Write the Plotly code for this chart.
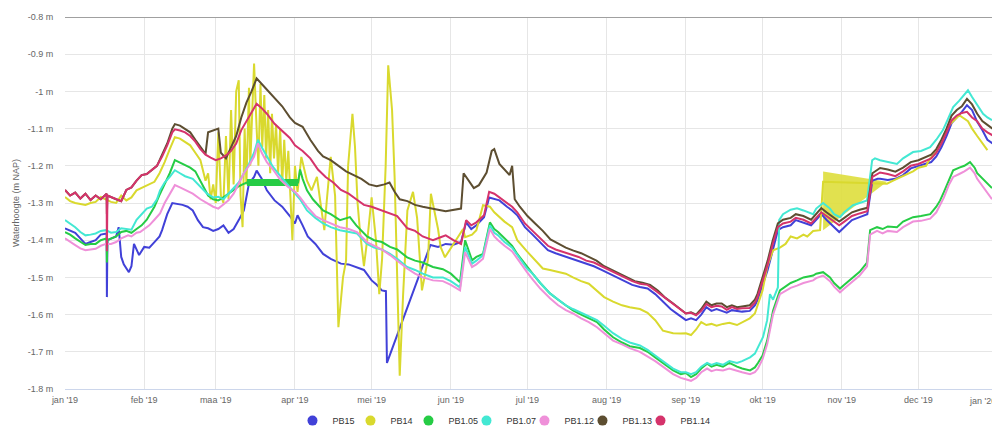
import pandas as pd
import plotly.graph_objects as go

# ---------------- data (day offsets from 2019-01-01, water level in m NAP) ----------------
pb15_days = [0, 2, 4, 6, 8, 10, 12, 14, 16.3, 16.4, 16.6, 20, 21, 22, 23, 25, 26, 27, 28, 29, 31, 33, 35, 37, 38, 40, 42,
             44, 46, 48, 50, 52, 54, 56, 58, 60, 62, 64, 66, 68, 70, 72, 74, 75, 77, 79, 82, 85, 88, 90, 91, 93, 95,
             98, 101, 104, 108, 111, 114, 117, 120, 122, 124, 125.6, 126, 143, 146, 149, 152, 155, 157, 159, 161, 164,
             166, 168, 170, 173, 175, 177, 180, 183, 186, 189, 192, 195, 198, 201, 204, 207, 210, 213, 216, 219, 222,
             225, 228, 231, 234, 237, 240, 243, 245, 247, 249, 251, 253, 255, 257, 259, 261, 263, 265, 268, 270, 271,
             273, 275, 277, 279, 281, 284, 286, 289, 292, 294, 296, 298, 301, 303, 305, 308, 311, 314, 316, 318, 319,
             322, 325, 328, 331, 334, 337, 339, 341, 343, 345, 347, 349, 351, 353, 355, 357, 359, 361, 363]
pb15_vals = [-1.368, -1.375, -1.38, -1.395, -1.41, -1.405, -1.40, -1.385, -1.382, -1.553, -1.40, -1.39, -1.365, -1.445,
             -1.465, -1.486, -1.47, -1.41, -1.425, -1.44, -1.418, -1.42, -1.405, -1.39, -1.373, -1.33, -1.30, -1.302,
             -1.305, -1.31, -1.32, -1.346, -1.365, -1.368, -1.375, -1.37, -1.36, -1.38, -1.37, -1.346, -1.32, -1.248,
             -1.23, -1.213, -1.235, -1.266, -1.293, -1.31, -1.335, -1.355, -1.333, -1.36, -1.39, -1.41, -1.437, -1.45,
             -1.463, -1.465, -1.472, -1.48, -1.508, -1.52, -1.535, -1.537, -1.73, -1.413, -1.418, -1.41, -1.412, -1.405,
             -1.352, -1.37, -1.36, -1.338, -1.285, -1.29, -1.293, -1.31, -1.32, -1.333, -1.365, -1.385, -1.405, -1.427,
             -1.435, -1.442, -1.45, -1.455, -1.463, -1.47, -1.48, -1.49, -1.50, -1.51, -1.52, -1.526, -1.53, -1.545,
             -1.565, -1.585, -1.60, -1.615, -1.61, -1.615, -1.60, -1.58, -1.59, -1.585, -1.59, -1.595, -1.588, -1.59,
             -1.592, -1.59, -1.575, -1.562, -1.52, -1.48, -1.427, -1.373, -1.365, -1.36, -1.346, -1.352, -1.36, -1.345,
             -1.33, -1.345, -1.365, -1.378, -1.365, -1.346, -1.338, -1.33, -1.24, -1.235, -1.235, -1.238, -1.235, -1.225,
             -1.207, -1.20, -1.195, -1.19, -1.175, -1.15, -1.12, -1.085, -1.07, -1.055, -1.037, -1.05, -1.082, -1.104,
             -1.13, -1.14]

pb14_days = [0, 2, 4, 6, 8, 10, 12, 14, 16, 18, 20, 22, 24, 26, 28, 31, 33, 35, 37, 39, 41, 43, 45, 47, 49, 51, 53, 55,
             56, 57, 58, 59, 60, 61, 62, 63, 64, 65, 66, 67, 68, 68.7, 69.5, 70.3, 71, 72, 72.5, 73.3, 74, 75, 75.7,
             76.5, 77.2, 78, 78.7, 79.5, 80.3, 81, 81.8, 82.6, 83.4, 84.2, 85, 85.8, 86.6, 87.4, 88.2, 89, 90, 91, 92.5,
             94.7, 96.5, 98.6, 100, 101.5, 102.5, 104, 105.7, 107, 108.8, 110, 110.8, 112.5, 113.5, 114.5, 115.5, 117,
             118.6, 120, 121.7, 123, 124.1, 125.5, 126.5, 128, 129, 129.9, 131, 132.3, 134, 136.2, 137.8, 139.7, 142.1,
             143.2, 146, 147, 148.7, 155.8, 156.6, 159.3, 161, 163.6, 166.3, 168, 169.5, 172, 175, 177, 180.8, 184, 187,
             189.8, 193, 196, 198.8, 202, 205, 208.2, 211, 214.5, 218, 221, 225, 228, 231, 234, 238, 241, 243, 245, 247,
             249, 251, 253, 255, 257.5, 260, 263, 265, 268, 270, 271.2, 273, 274.8, 277.1, 279.8, 282, 284, 286.5, 289,
             290.5, 292.8, 295.5, 296.7, 321.7, 324.1, 325.6, 328, 331.9, 334, 337, 338.6, 341, 343.6, 345.5, 347.6,
             350, 353.4, 355, 357, 359.3, 361, 362.8]
pb14_vals = [-1.284, -1.295, -1.30, -1.302, -1.305, -1.30, -1.297, -1.284, -1.29, -1.297, -1.30, -1.28, -1.293, -1.285,
             -1.266, -1.257, -1.25, -1.243, -1.22, -1.19, -1.155, -1.123, -1.127, -1.135, -1.145, -1.165, -1.185, -1.24,
             -1.22, -1.29, -1.25, -1.30, -1.11, -1.28, -1.30, -1.12, -1.29, -1.05, -1.25, -1.00, -0.97, -1.28, -1.365,
             -1.10, -1.25, -0.99, -1.20, -1.05, -0.925, -1.10, -1.20, -0.98, -1.15, -1.01, -1.18, -1.05, -1.22, -1.06,
             -1.18, -1.09, -1.22, -1.10, -1.25, -1.13, -1.24, -1.16, -1.30, -1.40, -1.20, -1.27, -1.176, -1.24, -1.266,
             -1.23, -1.30, -1.373, -1.29, -1.176, -1.28, -1.634, -1.50, -1.455, -1.20, -1.06, -1.15, -1.30, -1.38,
             -1.47, -1.38, -1.285, -1.40, -1.545, -1.45, -1.20, -0.93, -1.05, -1.23, -1.50, -1.764, -1.55, -1.32, -1.27,
             -1.34, -1.535, -1.45, -1.275, -1.37, -1.418, -1.446, -1.37, -1.392, -1.385, -1.373, -1.306, -1.31,
             -1.325, -1.335, -1.35, -1.365, -1.40, -1.43, -1.455, -1.476, -1.48, -1.485, -1.49, -1.50, -1.51, -1.517,
             -1.535, -1.553, -1.565, -1.575, -1.58, -1.585, -1.595, -1.615, -1.643, -1.65, -1.651, -1.65, -1.655,
             -1.64, -1.62, -1.628, -1.625, -1.63, -1.625, -1.622, -1.628, -1.62, -1.61, -1.597, -1.57, -1.535, -1.472,
             -1.427, -1.42, -1.41, -1.39, -1.395, -1.385, -1.39, -1.375, -1.373, -1.243, -1.248, -1.24, -1.235, -1.226,
             -1.215, -1.205, -1.20, -1.18, -1.163, -1.13, -1.095, -1.08, -1.064, -1.08, -1.10, -1.12, -1.14, -1.158]

# PB14 filled artefact (Oct/Nov)
pb14_patch_days = [296.7, 321.7, 296.7, 296.7]
pb14_patch_vals = [-1.215, -1.243, -1.373, -1.215]

pb105_days = [0, 2, 4, 6, 8, 10, 12, 14, 16.3, 16.4, 16.6, 20, 22, 24, 26, 28, 30, 32, 33.5, 35, 37, 39, 41, 43, 45,
              47, 49, 51, 53, 55, 56, 58, 60, 62, 64, 66, 68, 69.5, 71.2, 91.2, 92, 93, 94.7, 97, 101, 104, 107.6,
              111.5, 114, 118.2, 121, 124, 127.2, 130, 133.9, 137, 140, 144, 147.9, 151, 154.6, 156.6, 159.3, 161,
              163.6, 166.3, 168, 169.5, 172, 175, 177, 180.8, 183, 186, 189.8, 193, 196, 198.8, 202, 205, 208.2, 211,
              214.5, 218, 221, 225, 228, 231, 234, 238, 241, 243, 245, 247, 249, 251.3, 253, 255, 257.5, 260, 263, 265,
              268.1, 270, 271.2, 273, 274.8, 277.1, 279.8, 282, 284, 286.5, 289, 292.8, 294, 296.7, 299.4, 301, 303.3,
              305, 308.4, 311, 313.9, 315.1, 317.8, 320, 322, 325.6, 328, 331.9, 335, 338.6, 341, 342.5, 344, 346,
              347.6, 350, 352, 354.2, 356, 357, 360, 362.8]
pb105_vals = [-1.378, -1.385, -1.395, -1.405, -1.413, -1.41, -1.41, -1.40, -1.395, -1.46, -1.40, -1.39, -1.378, -1.375,
              -1.38, -1.37, -1.36, -1.345, -1.328, -1.31, -1.278, -1.25, -1.22, -1.185, -1.192, -1.198, -1.205, -1.215,
              -1.24, -1.265, -1.28, -1.29, -1.293, -1.285, -1.275, -1.266, -1.255, -1.25, -1.245, -1.245, -1.21,
              -1.235, -1.266, -1.29, -1.32, -1.33, -1.346, -1.338, -1.36, -1.39, -1.40, -1.405, -1.418, -1.425, -1.446,
              -1.455, -1.46, -1.472, -1.478, -1.49, -1.513, -1.40, -1.454, -1.445, -1.437, -1.352, -1.37, -1.378,
              -1.395, -1.415, -1.437, -1.472, -1.49, -1.515, -1.543, -1.56, -1.575, -1.589, -1.60, -1.61, -1.62, -1.64,
              -1.661, -1.675, -1.685, -1.69, -1.70, -1.715, -1.73, -1.75, -1.76, -1.757, -1.768, -1.76, -1.745,
              -1.732, -1.74, -1.735, -1.74, -1.73, -1.74, -1.745, -1.75, -1.742, -1.73, -1.71, -1.67, -1.59, -1.535,
              -1.525, -1.515, -1.508, -1.50, -1.495, -1.49, -1.486, -1.50, -1.515, -1.53, -1.52, -1.50, -1.485, -1.46,
              -1.373, -1.365, -1.37, -1.363, -1.365, -1.35, -1.338, -1.335, -1.33, -1.31, -1.293, -1.27, -1.235,
              -1.212, -1.205, -1.20, -1.19, -1.205, -1.22, -1.24, -1.26]
# PB1.05 dense plateau (mid March)
pb105_bar_days = [71.2, 91.2]
pb105_bar_vals = [-1.245, -1.245]

pb107_days = [0, 2, 4, 6, 8, 10, 12, 14, 16, 18, 20, 22, 24, 26, 28, 30, 32, 34, 36, 37.2, 39, 41, 43, 45, 47, 50, 53,
              55.6, 58, 60, 62, 64, 66, 68, 70, 72, 74, 75.5, 77, 79, 81.4, 84, 87, 90, 92, 94.7, 98, 101, 104, 107.6,
              111, 114.3, 118.2, 121, 124, 127.2, 130, 133.9, 137, 140, 144, 147.9, 151, 154.6, 156.6, 159.3, 161,
              163.6, 166.3, 168, 169.5, 172, 175, 177, 180.8, 183, 186, 189.8, 193, 196, 198.8, 202, 205, 208.2, 211,
              214.5, 218, 221, 225, 228, 231, 234, 238, 241, 243, 245, 247, 249, 251.3, 253, 255, 257.5, 260, 263, 265,
              268.1, 270, 271.2, 273.2, 274.8, 275.9, 277.1, 279, 279.5, 281, 284, 286.5, 289, 292.8, 294, 296.7,
              299.4, 301, 303.3, 305, 308.4, 311, 313.9, 315.9, 317, 319, 322, 325.6, 328, 331.9, 335, 338.6, 341,
              343.6, 345.5, 347.6, 350, 352, 353.4, 355, 357, 359.3, 361, 362.8]
pb107_vals = [-1.346, -1.355, -1.365, -1.378, -1.387, -1.385, -1.382, -1.375, -1.373, -1.38, -1.378, -1.368, -1.37,
              -1.372, -1.345, -1.33, -1.315, -1.31, -1.29, -1.266, -1.245, -1.23, -1.212, -1.22, -1.228, -1.235,
              -1.255, -1.275, -1.285, -1.283, -1.29, -1.275, -1.26, -1.245, -1.22, -1.195, -1.165, -1.13, -1.15,
              -1.175, -1.203, -1.225, -1.25, -1.275, -1.29, -1.32, -1.34, -1.355, -1.365, -1.373, -1.378, -1.382,
              -1.41, -1.42, -1.425, -1.437, -1.45, -1.472, -1.48, -1.49, -1.50, -1.50, -1.51, -1.527, -1.418, -1.463,
              -1.455, -1.44, -1.36, -1.38, -1.387, -1.405, -1.42, -1.44, -1.476, -1.49, -1.515, -1.543, -1.56, -1.575,
              -1.585, -1.595, -1.605, -1.615, -1.63, -1.65, -1.665, -1.675, -1.683, -1.695, -1.71, -1.725, -1.745,
              -1.755, -1.755, -1.76, -1.755, -1.74, -1.73, -1.735, -1.73, -1.735, -1.725, -1.73, -1.725, -1.715,
              -1.705, -1.688, -1.66, -1.615, -1.545, -1.56, -1.527, -1.346, -1.33, -1.318, -1.314, -1.32, -1.33,
              -1.315, -1.30, -1.315, -1.33, -1.338, -1.325, -1.306, -1.30, -1.293, -1.185, -1.18, -1.185, -1.19,
              -1.195, -1.18, -1.163, -1.16, -1.15, -1.13, -1.104, -1.075, -1.042, -1.025, -1.01, -0.997, -1.015,
              -1.037, -1.06, -1.07, -1.077]

pb112_days = [0, 2, 4, 6, 8, 10, 12, 14, 16, 18, 20, 22, 24.7, 26, 28, 29.4, 31, 33, 35, 37.2, 39, 41, 43, 45, 47, 50,
              53, 55.6, 58, 60, 62, 64, 66, 68.5, 70, 72, 74, 75.5, 77, 79, 81.4, 84, 87, 90, 92, 94.7, 98, 101, 104,
              107.6, 111, 114.3, 118.2, 121, 124, 127.2, 130, 133.9, 137, 140, 144, 147.9, 151, 154.6, 156.6, 159.3,
              161, 163.6, 166.3, 168, 169.5, 172, 175, 177, 180.8, 183, 186, 189.8, 193, 196, 198.8, 202, 205, 208.2,
              211, 214.5, 218, 221, 225, 228, 231, 234, 238, 241, 243, 245, 247, 249, 251.3, 253, 255, 257.5, 260, 263,
              265, 268.1, 270, 271.2, 273, 274.8, 277.1, 279.8, 282, 284, 286.5, 289, 292.8, 294, 296.7, 299.4, 301,
              303.3, 305, 308.4, 311, 313.9, 315.1, 317.8, 320, 322, 325.6, 328, 331.9, 335, 338.6, 341, 342.5, 344,
              346, 347.6, 350, 352, 354.2, 356, 357, 360, 362.8]
pb112_vals = [-1.395, -1.405, -1.413, -1.422, -1.427, -1.425, -1.423, -1.415, -1.41, -1.41, -1.405, -1.395, -1.387,
              -1.39, -1.38, -1.378, -1.37, -1.36, -1.345, -1.328, -1.30, -1.275, -1.252, -1.258, -1.265, -1.275,
              -1.29, -1.30, -1.31, -1.315, -1.305, -1.293, -1.275, -1.24, -1.22, -1.20, -1.175, -1.14, -1.165, -1.19,
              -1.21, -1.235, -1.255, -1.27, -1.285, -1.31, -1.335, -1.346, -1.355, -1.365, -1.37, -1.378, -1.405,
              -1.415, -1.425, -1.44, -1.455, -1.476, -1.49, -1.50, -1.508, -1.51, -1.52, -1.535, -1.432, -1.472,
              -1.465, -1.45, -1.37, -1.39, -1.40, -1.415, -1.43, -1.45, -1.486, -1.505, -1.53, -1.556, -1.575, -1.588,
              -1.597, -1.61, -1.62, -1.634, -1.65, -1.67, -1.68, -1.69, -1.70, -1.712, -1.725, -1.74, -1.76, -1.77,
              -1.775, -1.778, -1.77, -1.755, -1.745, -1.752, -1.748, -1.75, -1.745, -1.752, -1.755, -1.76, -1.755,
              -1.745, -1.72, -1.68, -1.60, -1.545, -1.535, -1.528, -1.522, -1.515, -1.508, -1.502, -1.495, -1.51,
              -1.525, -1.54, -1.53, -1.51, -1.495, -1.47, -1.385, -1.375, -1.382, -1.375, -1.378, -1.365, -1.35,
              -1.348, -1.342, -1.325, -1.305, -1.285, -1.25, -1.23, -1.222, -1.215, -1.205, -1.22, -1.235, -1.265,
              -1.29]

pb113_days = [0, 2, 4, 6, 8, 10, 12, 14, 16.3, 16.4, 16.6, 20, 22, 24, 26, 28, 30, 32, 34, 36, 38, 40, 42, 43, 45, 47,
              49, 51, 53, 55, 56, 58, 60, 61, 63, 65, 67, 69, 71, 73, 75, 77, 79, 82, 85, 88, 90, 93, 96, 99, 101, 104,
              107, 110, 113, 116, 119, 122, 125, 127, 129, 131, 134, 137, 140, 143, 146, 149, 152, 155, 156, 158, 160,
              162, 164, 165, 167, 168, 170, 172, 174, 175, 176, 178, 181, 184, 187, 190, 193, 196, 199, 202, 205, 208,
              211, 214, 217, 220, 223, 226, 229, 232, 235, 238, 241, 243, 245, 247, 249, 251, 253, 255, 257, 259, 261,
              263, 265, 268, 270, 271, 273, 275, 277, 279, 281, 284, 286, 289, 292, 294, 296, 298, 301, 303, 305, 308,
              311, 314, 316, 318, 319, 322, 325, 328, 331, 334, 337, 339, 341, 343, 345, 347, 349, 351, 353, 355, 357,
              359, 361, 363]
pb113_vals = [-1.265, -1.28, -1.272, -1.288, -1.275, -1.292, -1.28, -1.29, -1.275, -1.33, -1.28, -1.29, -1.295,
              -1.265, -1.258, -1.24, -1.225, -1.222, -1.21, -1.20, -1.17, -1.14, -1.10, -1.088, -1.092, -1.10, -1.11,
              -1.13, -1.15, -1.168, -1.11, -1.105, -1.10, -1.165, -1.18, -1.15, -1.12, -1.07, -1.03, -1.00, -0.965,
              -0.98, -0.995, -1.015, -1.04, -1.07, -1.085, -1.095, -1.13, -1.16, -1.175, -1.185, -1.20, -1.215,
              -1.225, -1.235, -1.25, -1.255, -1.25, -1.245, -1.27, -1.29, -1.295, -1.305, -1.31, -1.315, -1.318,
              -1.322, -1.318, -1.315, -1.22, -1.24, -1.26, -1.252, -1.23, -1.218, -1.16, -1.155, -1.195, -1.21,
              -1.225, -1.20, -1.29, -1.31, -1.335, -1.355, -1.375, -1.398, -1.41, -1.42, -1.428, -1.435, -1.445,
              -1.455, -1.47, -1.48, -1.49, -1.50, -1.51, -1.514, -1.52, -1.535, -1.555, -1.57, -1.585, -1.597, -1.594,
              -1.60, -1.585, -1.565, -1.575, -1.57, -1.57, -1.58, -1.575, -1.58, -1.578, -1.575, -1.56, -1.545, -1.50,
              -1.455, -1.40, -1.355, -1.345, -1.34, -1.33, -1.335, -1.345, -1.33, -1.314, -1.325, -1.34, -1.35, -1.34,
              -1.325, -1.318, -1.313, -1.22, -1.21, -1.206, -1.21, -1.216, -1.205, -1.19, -1.185, -1.175, -1.17,
              -1.155, -1.13, -1.10, -1.065, -1.05, -1.04, -1.02, -1.035, -1.06, -1.08, -1.09, -1.10]

pb114_days = [0, 2, 4, 6, 8, 10, 12, 14, 16.3, 16.4, 16.6, 20, 22, 24, 26, 28, 30, 32, 34, 36, 38, 40, 42, 43, 45, 47,
              49, 51, 53, 55, 57, 59, 61, 63, 65, 67, 69, 71, 73, 75, 77, 79, 82, 85, 88, 90, 93, 96, 99, 102, 105,
              108, 111, 114, 117, 120, 123, 127, 130, 134, 137, 140, 144, 147, 149, 152, 155, 157, 159, 161, 164, 166,
              168, 170, 173, 175, 177, 180, 183, 186, 189, 192, 195, 198, 201, 204, 207, 210, 213, 216, 219, 222, 225,
              228, 231, 234, 237, 240, 243, 245, 247, 249, 251, 253, 255, 257, 259, 261, 263, 265, 268, 270, 271, 273,
              275, 277, 279, 281, 284, 286, 289, 292, 294, 296, 298, 301, 303, 305, 308, 311, 314, 316, 318, 319, 322,
              325, 328, 331, 334, 337, 339, 341, 343, 345, 347, 349, 351, 353, 355, 357, 359, 361, 363]
pb114_vals = [-1.265, -1.28, -1.272, -1.288, -1.275, -1.292, -1.28, -1.29, -1.275, -1.43, -1.28, -1.29, -1.295,
              -1.265, -1.258, -1.24, -1.225, -1.222, -1.212, -1.20, -1.175, -1.145, -1.11, -1.102, -1.105, -1.11,
              -1.12, -1.135, -1.155, -1.17, -1.178, -1.185, -1.18, -1.172, -1.16, -1.14, -1.104, -1.08, -1.06, -1.033,
              -1.045, -1.06, -1.087, -1.105, -1.125, -1.145, -1.16, -1.18, -1.21, -1.23, -1.245, -1.265, -1.275,
              -1.29, -1.305, -1.31, -1.318, -1.328, -1.335, -1.368, -1.375, -1.39, -1.40, -1.392, -1.387, -1.40,
              -1.41, -1.346, -1.36, -1.352, -1.333, -1.27, -1.275, -1.285, -1.30, -1.31, -1.325, -1.355, -1.375,
              -1.395, -1.415, -1.425, -1.432, -1.44, -1.445, -1.455, -1.46, -1.47, -1.48, -1.49, -1.50, -1.51, -1.517,
              -1.52, -1.535, -1.55, -1.565, -1.58, -1.597, -1.595, -1.602, -1.59, -1.572, -1.58, -1.576, -1.578,
              -1.587, -1.58, -1.585, -1.583, -1.582, -1.568, -1.553, -1.51, -1.465, -1.41, -1.365, -1.355, -1.35,
              -1.34, -1.345, -1.355, -1.34, -1.325, -1.335, -1.35, -1.36, -1.35, -1.335, -1.328, -1.322, -1.23,
              -1.222, -1.218, -1.222, -1.228, -1.215, -1.20, -1.195, -1.185, -1.18, -1.165, -1.14, -1.11, -1.078,
              -1.065, -1.058, -1.055, -1.07, -1.08, -1.10, -1.11, -1.118]

series_names = ["PB15", "PB14", "PB1.05", "PB1.07", "PB1.12", "PB1.13", "PB1.14"]
series_colors = ["#4141d8", "#d9d92e", "#26cc45", "#43e8d3", "#ef90d9", "#5d4e31", "#d5336b"]

month_starts = ["2019-01-01", "2019-02-01", "2019-03-01", "2019-04-01", "2019-05-01", "2019-06-01",
                "2019-07-01", "2019-08-01", "2019-09-01", "2019-10-01", "2019-11-01", "2019-12-01"]
month_labels = ["jan '19", "feb '19", "maa '19", "apr '19", "mei '19", "jun '19",
                "jul '19", "aug '19", "sep '19", "okt '19", "nov '19", "dec '19"]
y_ticks = [-0.8, -0.9, -1.0, -1.1, -1.2, -1.3, -1.4, -1.5, -1.6, -1.7, -1.8]
y_labels = ["-0.8 m", "-0.9 m", "-1 m", "-1.1 m", "-1.2 m", "-1.3 m", "-1.4 m", "-1.5 m", "-1.6 m", "-1.7 m", "-1.8 m"]

# ---------------- figure ----------------
START = pd.Timestamp("2019-01-01")


def to_dates(days):
    return [START + pd.Timedelta(days=d) for d in days]


series_data = [
    (pb15_days, pb15_vals), (pb14_days, pb14_vals), (pb105_days, pb105_vals), (pb107_days, pb107_vals),
    (pb112_days, pb112_vals), (pb113_days, pb113_vals), (pb114_days, pb114_vals),
]

FONT = "Liberation Sans, Arial, sans-serif"
fig = go.Figure()

# filled artefact of PB14 (drawn underneath)
fig.add_trace(go.Scatter(x=to_dates(pb14_patch_days), y=pb14_patch_vals, mode="lines", fill="toself",
                         fillcolor="rgba(222,222,60,0.9)", line=dict(width=0), legendgroup="PB14",
                         showlegend=False, hoverinfo="skip"))

for name, color, (d, v) in zip(series_names, series_colors, series_data):
    fig.add_trace(go.Scatter(x=to_dates(d), y=v, mode="lines", name=name, legendgroup=name,
                             line=dict(color=color, width=2), showlegend=False))
    if name == "PB1.05":
        fig.add_trace(go.Scatter(x=to_dates(pb105_bar_days), y=pb105_bar_vals, mode="lines",
                                 line=dict(color=color, width=7), legendgroup=name, showlegend=False,
                                 hoverinfo="skip"))

# legend entries (circle symbols)
for name, color in zip(series_names, series_colors):
    fig.add_trace(go.Scatter(x=[None], y=[None], mode="markers", name=name, legendgroup=name,
                             marker=dict(color=color, size=10, symbol="circle")))
# empty spacer entry so the last legend label is not clipped
fig.add_trace(go.Scatter(x=[None], y=[None], mode="markers", name=" ", legendgroup="spacer",
                         marker=dict(color="rgba(0,0,0,0)", size=1), hoverinfo="skip"))

fig.update_layout(
    width=992, height=426,
    margin=dict(l=65, r=0, t=17, b=37, autoexpand=False),
    paper_bgcolor="white", plot_bgcolor="white",
    font=dict(family=FONT, size=9, color="#666666"),
    showlegend=True,
    legend=dict(orientation="h", x=0.2454, xanchor="left", y=-0.085, yanchor="middle",
                font=dict(size=9, color="#333333"), entrywidth=13, entrywidthmode="pixels",
                itemwidth=30, tracegroupgap=0),
    hovermode=False,
    xaxis=dict(type="date", range=[START, START + pd.Timedelta(days=362.8)],
               tickvals=month_starts, ticktext=month_labels, automargin=False,
               showgrid=True, gridcolor="#e6e6e6", gridwidth=1,
               showline=True, linecolor="#ccd6eb", linewidth=1,
               ticks="outside", ticklen=2, tickcolor="rgba(0,0,0,0)",
               tickfont=dict(size=9, color="#666666"), zeroline=False, fixedrange=True),
    yaxis=dict(range=[-1.8, -0.8], tickvals=y_ticks, ticktext=y_labels, automargin=False,
               showgrid=True, gridcolor="#e6e6e6", gridwidth=1, zeroline=False,
               ticks="outside", ticklen=9, tickcolor="rgba(0,0,0,0)",
               tickfont=dict(size=9, color="#666666"),
               title=dict(text="Waterhoogte (m NAP)", font=dict(size=9, color="#666666"), standoff=6),
               fixedrange=True),
    shapes=[dict(type="line", xref="paper", yref="y", x0=0, x1=1, y0=-0.8, y1=-0.8,
                 line=dict(color="#a0a0a0", width=2))],
    annotations=[dict(text="jan '20", xref="paper", yref="paper", x=(967 - 65) / 927, y=-0.031,
                      xanchor="left", yanchor="middle", showarrow=False,
                      font=dict(size=9, color="#666666"))],
)

fig.write_html("out.html", config={"displayModeBar": False},
               post_script="document.body.style.margin='0';document.body.style.overflow='hidden';")
